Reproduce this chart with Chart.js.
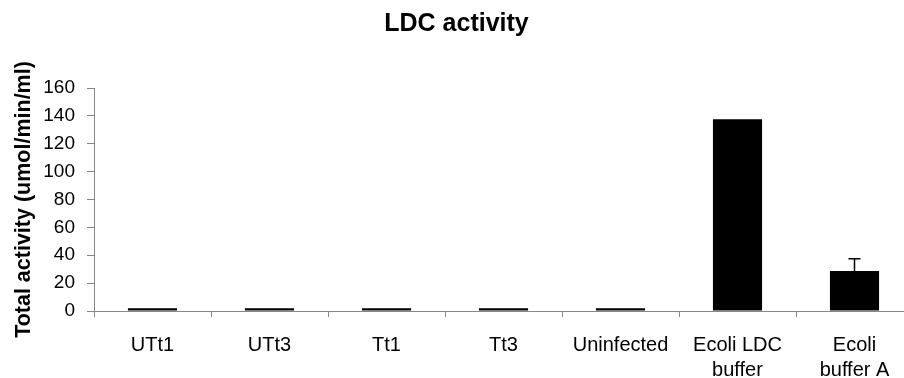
<!DOCTYPE html>
<html>
<head>
<meta charset="utf-8">
<script src="https://cdn.jsdelivr.net/npm/chart.js@4/dist/chart.umd.min.js"></script>
<style>
html,body{margin:0;padding:0;background:#fff;overflow:hidden;}
#wrap{width:904px;height:378px;overflow:hidden;position:relative;}
canvas{display:block;}
</style>
</head>
<body>
<div id="wrap"><canvas id="c" width="920" height="378"></canvas></div>
<script>
const categories = ["UTt1", "UTt3", "Tt1", "Tt3", "Uninfected", ["Ecoli LDC", "buffer"], ["Ecoli", "buffer A"]];
const activity = [2, 2, 2, 2, 2, 137.5, 28.7];
const errorPlus = [0, 0, 0, 0, 0, 0, 8.8];
const yTicks = [0, 20, 40, 60, 80, 100, 120, 140, 160];

const FONT = "'Liberation Sans', Arial, sans-serif";

const errorBars = {
  id: 'errorBars',
  afterDatasetsDraw(chart) {
    const meta = chart.getDatasetMeta(0);
    const y = chart.scales.y;
    const ctx = chart.ctx;
    ctx.save();
    ctx.strokeStyle = '#000';
    ctx.lineWidth = 1.5;
    meta.data.forEach((bar, i) => {
      const e = errorPlus[i];
      if (!e) return;
      const y0 = y.getPixelForValue(activity[i]);
      const y1 = y.getPixelForValue(activity[i] + e);
      ctx.beginPath();
      ctx.moveTo(bar.x, y0);
      ctx.lineTo(bar.x, y1);
      ctx.moveTo(bar.x - 6, y1);
      ctx.lineTo(bar.x + 6, y1);
      ctx.stroke();
    });
    ctx.restore();
  }
};

new Chart(document.getElementById('c'), {
  type: 'bar',
  data: {
    labels: categories,
    datasets: [{
      data: activity,
      backgroundColor: '#000',
      borderWidth: 0,
      barPercentage: 0.42,
      categoryPercentage: 1.0
    }]
  },
  options: {
    responsive: false,
    animation: false,
    devicePixelRatio: 1,
    layout: { padding: { left: 0, right: 7, top: 0, bottom: 0 } },
    plugins: {
      legend: { display: false },
      tooltip: { enabled: false },
      title: {
        display: true,
        text: 'LDC activity',
        color: '#000',
        font: { family: FONT, size: 25, weight: 'bold', lineHeight: 1.2 },
        padding: { top: 9, bottom: 49 }
      }
    },
    scales: {
      x: {
        grid: { display: true, offset: true, drawOnChartArea: false, drawTicks: true, tickLength: 6, color: '#888' },
        border: { display: true, color: '#888', width: 1 },
        ticks: { color: '#000', font: { family: FONT, size: 20, lineHeight: 1.25 }, padding: 16, maxRotation: 0, autoSkip: false },
        afterFit(scale) { scale.height = 67; }
      },
      y: {
        min: 0,
        max: 160,
        afterBuildTicks(scale) { scale.ticks = yTicks.map(v => ({ value: v })); },
        grid: { display: true, drawOnChartArea: false, drawTicks: true, tickLength: 7, color: '#888' },
        border: { display: true, color: '#888', width: 1 },
        ticks: { color: '#000', font: { family: FONT, size: 19 }, padding: 12 },
        title: {
          display: true,
          text: 'Total activity (umol/min/ml)',
          color: '#000',
          font: { family: FONT, size: 21.5, weight: 'bold', lineHeight: 1.2 },
          padding: { top: 11, bottom: 0 }
        },
        afterFit(scale) { scale.width = 94; }
      }
    }
  },
  plugins: [errorBars]
});
</script>
</body>
</html>
